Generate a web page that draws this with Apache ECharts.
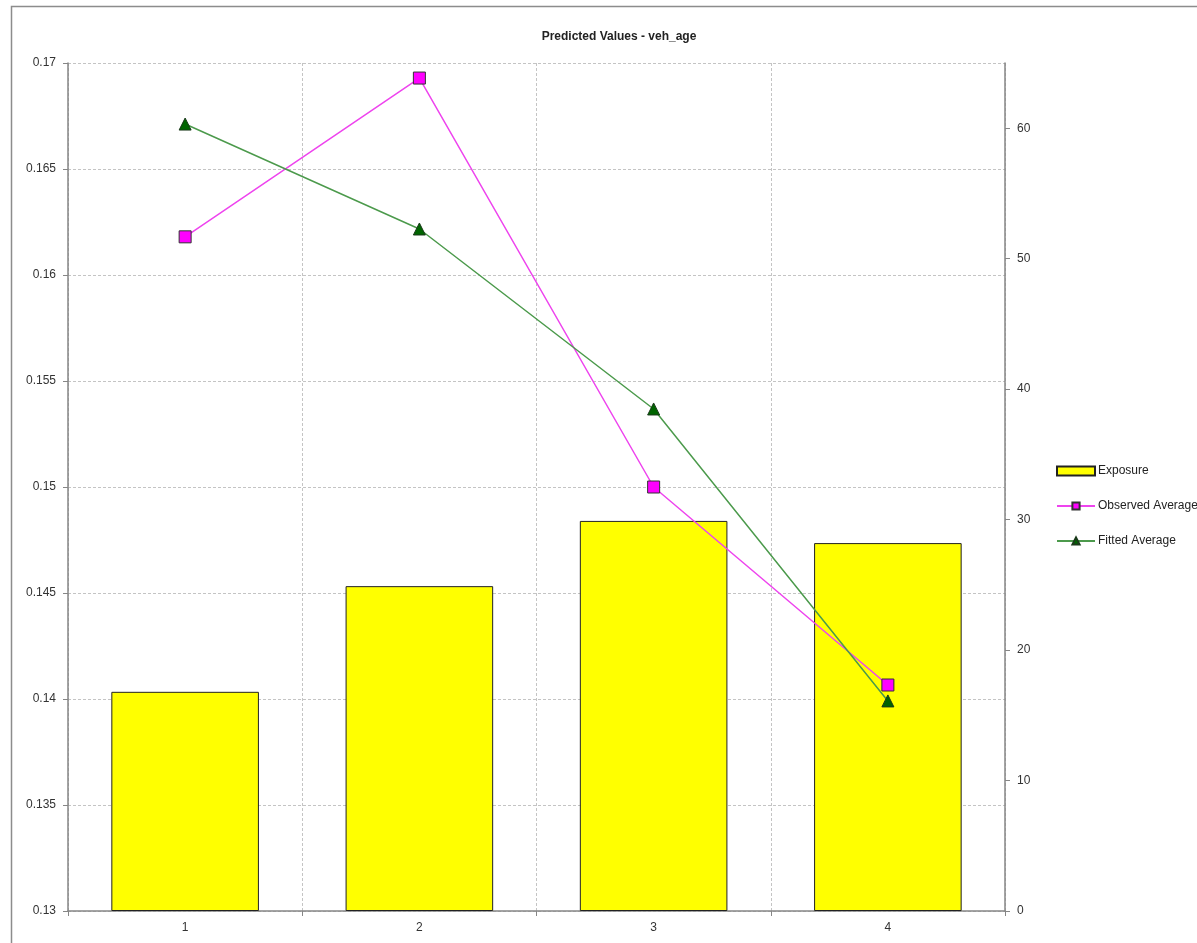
<!DOCTYPE html>
<html>
<head>
<meta charset="utf-8">
<script src="https://cdn.jsdelivr.net/npm/echarts@6/dist/echarts.min.js"></script>
<style>
html,body{margin:0;padding:0;background:#fff;}
#c{width:1197px;height:943px;}
</style>
</head>
<body>
<div id="c"></div>
<script>
const categories = ['1', '2', '3', '4'];
const exposure = [16.8, 24.9, 29.9, 28.2];
const observedAverage = [0.1618, 0.16929, 0.1500, 0.14066];
const fittedAverage = [0.16712, 0.16217, 0.15368, 0.13991];
const rightTicks = [0, 10, 20, 30, 40, 50, 60];

const FONT = '"Liberation Sans", Arial, sans-serif';
const chart = echarts.init(document.getElementById('c'));
chart.setOption({
  backgroundColor: '#ffffff',
  animation: false,
  textStyle: { fontFamily: FONT },
  graphic: [
    { type: 'rect', shape: { x: 11.5, y: 6.5, width: 1300, height: 1000 },
      style: { fill: 'none', stroke: '#8c8c8c', lineWidth: 1.5 }, z: -10 }
  ],
  title: {
    text: 'Predicted Values - veh_age',
    left: 614, top: 26, textAlign: 'center',
    textStyle: { fontSize: 12, fontWeight: 'bold', color: '#222', fontFamily: FONT }
  },
  legend: {
    orient: 'vertical',
    left: 1051, top: 460,
    itemGap: 23,
    itemWidth: 38, itemHeight: 9,
    textStyle: { fontSize: 12, color: '#222', fontFamily: FONT, padding: [0,0,0,-2] },
    data: [
      { name: 'Exposure', icon: 'rect' },
      { name: 'Observed Average' },
      { name: 'Fitted Average' }
    ]
  },
  grid: { left: 68, right: 192, top: 63, bottom: 32, containLabel: false },
  xAxis: {
    type: 'category',
    data: categories,
    boundaryGap: true,
    axisLine: { lineStyle: { color: '#868686', width: 1.5 } },
    axisTick: { show: true, length: 5, lineStyle: { color: '#868686' } },
    axisLabel: { fontSize: 12, color: '#333', margin: 11 },
    splitLine: { show: true, lineStyle: { color: '#c4c4c4', type: [3, 2], width: 1 } }
  },
  yAxis: [
    {
      type: 'value', min: 0.13, max: 0.17, interval: 0.005,
      position: 'left',
      axisLine: { show: true, lineStyle: { color: '#868686', width: 1.5 } },
      axisTick: { show: true, length: 5, lineStyle: { color: '#868686' } },
      axisLabel: { fontSize: 12, color: '#333', margin: 12,
        formatter: v => String(+v.toFixed(3)) },
      splitLine: { show: true, lineStyle: { color: '#c4c4c4', type: [3, 2], width: 1 } }
    },
    {
      type: 'value', min: 0, max: 65,
      position: 'right',
      axisLine: { show: true, lineStyle: { color: '#868686', width: 1.5 } },
      axisTick: { show: true, length: 5, lineStyle: { color: '#868686' }, customValues: rightTicks },
      axisLabel: { fontSize: 12, color: '#333', margin: 12, customValues: rightTicks },
      splitLine: { show: false }
    }
  ],
  series: [
    {
      name: 'Exposure', type: 'bar', yAxisIndex: 1,
      data: exposure,
      barWidth: '63%',
      itemStyle: { color: '#ffff00', borderColor: '#222', borderWidth: 1 },
      z: 2
    },
    {
      name: 'Observed Average', type: 'line', yAxisIndex: 0,
      data: observedAverage,
      symbol: 'rect', symbolSize: 12,
      lineStyle: { color: '#ee44ee', width: 1.5 },
      itemStyle: { color: '#ff00ff', borderColor: '#333', borderWidth: 1 },
      z: 4
    },
    {
      name: 'Fitted Average', type: 'line', yAxisIndex: 0,
      data: fittedAverage,
      symbol: 'triangle', symbolSize: 12,
      lineStyle: { color: '#4c9a4c', width: 1.5 },
      itemStyle: { color: '#006400', borderColor: '#1a3a1a', borderWidth: 1 },
      z: 5
    }
  ]
});
</script>
</body>
</html>
